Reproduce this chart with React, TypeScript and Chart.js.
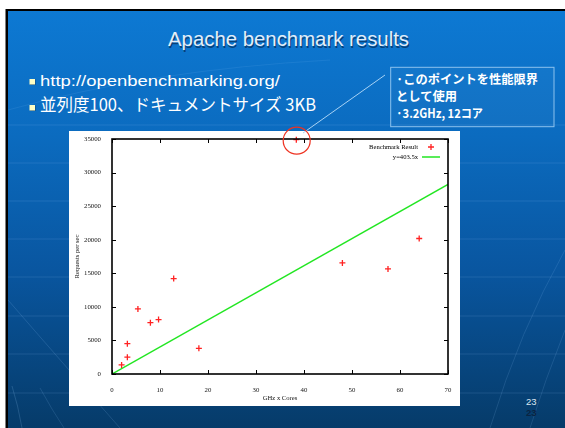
import React, { useEffect, useRef } from "react";
import { Chart, registerables } from "chart.js";

Chart.register(...registerables);

// ---- data ----
const resultX = [2.0, 3.2, 3.2, 5.4, 8.0, 9.7, 12.85, 18.1, 38.4, 48.0, 57.5, 64.0];
const resultY = [1350, 2500, 4520, 9690, 7650, 8100, 14210, 3830, 34900, 16550, 15650, 20180];
const fitX = [0, 70];
const fitY = [0, 28245];
const xTicks = [0, 10, 20, 30, 40, 50, 60, 70];
const yTicks = [0, 5000, 10000, 15000, 20000, 25000, 30000, 35000];
const seriesLabels = ["Benchmark Result", "y=403.5x"];
const xTitle = "GHz x Cores";
const yTitle = "Requests per sec";

const slideTitle = "Apache benchmark results";
const bullets = ["http://openbenchmarking.org/", "並列度100、ドキュメントサイズ 3KB"];
const calloutLines = ["·このポイントを性能限界", "として使用", "·3.2GHz, 12コア"];
const pageNumber = "23";

const SERIF = "'Liberation Serif', 'Times New Roman', serif";
const RED = "#ff2222";
const GREEN = "#22e622";

const framePlugin = {
  id: "gnuplotFrame",
  afterDatasetsDraw(chart: any) {
    const { ctx, chartArea: a, scales } = chart;
    ctx.save();
    ctx.strokeStyle = "#000";
    ctx.lineWidth = 1;
    const L = 4;
    ctx.beginPath();
    for (const v of xTicks) {
      const px = Math.round(scales.x.getPixelForValue(v)) + 0.5;
      ctx.moveTo(px, a.bottom);
      ctx.lineTo(px, a.bottom - L);
      ctx.moveTo(px, a.top);
      ctx.lineTo(px, a.top + L);
    }
    for (const v of yTicks) {
      const py = Math.round(scales.y.getPixelForValue(v)) + 0.5;
      ctx.moveTo(a.left, py);
      ctx.lineTo(a.left + L, py);
      ctx.moveTo(a.right, py);
      ctx.lineTo(a.right - L, py);
    }
    ctx.stroke();
    ctx.lineWidth = 1.6;
    ctx.strokeRect(a.left, a.top, a.right - a.left, a.bottom - a.top);

    // gnuplot-style key (text left, sample right)
    ctx.font = `6.6px ${SERIF}`;
    ctx.fillStyle = "#000";
    ctx.textAlign = "right";
    ctx.textBaseline = "middle";
    const ds = chart.data.datasets;
    const tx = a.right - 30;
    const y1 = a.top + 8;
    const y2 = a.top + 18;
    ctx.fillText(ds[0].label, tx, y1);
    ctx.fillText(ds[1].label, tx, y2);
    const mx = a.right - 17;
    ctx.strokeStyle = ds[0].borderColor;
    ctx.lineWidth = 1.3;
    ctx.beginPath();
    ctx.moveTo(mx - 3, y1);
    ctx.lineTo(mx + 3, y1);
    ctx.moveTo(mx, y1 - 3);
    ctx.lineTo(mx, y1 + 3);
    ctx.stroke();
    ctx.strokeStyle = ds[1].borderColor;
    ctx.lineWidth = 1.5;
    ctx.beginPath();
    ctx.moveTo(a.right - 26, y2);
    ctx.lineTo(a.right - 8, y2);
    ctx.stroke();
    ctx.restore();
  },
};

function ChartBox() {
  const ref = useRef<HTMLCanvasElement>(null);
  useEffect(() => {
    const chart = new Chart(ref.current as HTMLCanvasElement, {
      type: "scatter",
      data: {
        datasets: [
          {
            label: seriesLabels[0],
            data: resultX.map((x, i) => ({ x, y: resultY[i] })),
            pointStyle: "cross",
            pointRadius: 3,
            pointHoverRadius: 3,
            borderColor: RED,
            backgroundColor: RED,
            borderWidth: 1.3,
            showLine: false,
            clip: 6,
          },
          {
            label: seriesLabels[1],
            data: fitX.map((x, i) => ({ x, y: fitY[i] })),
            showLine: true,
            pointRadius: 0,
            borderColor: GREEN,
            backgroundColor: GREEN,
            borderWidth: 1.5,
          },
        ],
      } as any,
      options: {
        responsive: false,
        animation: false,
        devicePixelRatio: 1,
        layout: { padding: { top: 8, right: 12, left: 0, bottom: 0 } },
        plugins: { legend: { display: false }, tooltip: { enabled: false } },
        scales: {
          x: {
            type: "linear",
            min: 0,
            max: 70,
            afterFit: (s: any) => {
              s.height = 32;
            },
            afterBuildTicks: (s: any) => {
              s.ticks = xTicks.map((v) => ({ value: v }));
            },
            grid: { display: false },
            border: { display: false },
            ticks: {
              padding: 4,
              color: "#111",
              font: { family: SERIF, size: 6.8 },
              maxRotation: 0,
              callback: (v: any) => String(v),
            },
            title: {
              display: true,
              text: xTitle,
              color: "#111",
              font: { family: SERIF, size: 6.6 },
              padding: { top: 4, bottom: 4 },
            },
          },
          y: {
            type: "linear",
            min: 0,
            max: 35000,
            afterFit: (s: any) => {
              s.width = 43;
            },
            afterBuildTicks: (s: any) => {
              s.ticks = yTicks.map((v) => ({ value: v }));
            },
            grid: { display: false },
            border: { display: false },
            ticks: {
              padding: 3,
              color: "#111",
              font: { family: SERIF, size: 6.8 },
              callback: (v: any) => String(v),
            },
            title: {
              display: true,
              text: yTitle,
              color: "#111",
              font: { family: SERIF, size: 6.6 },
              padding: { top: 4, bottom: 4 },
            },
          },
        },
      } as any,
      plugins: [framePlugin],
    });
    return () => chart.destroy();
  }, []);
  return <canvas ref={ref} width={391} height={275} style={{ display: "block" }} />;
}

export default function App() {
  const hLines = [125, 163, 201, 239, 277, 316, 354, 393];
  return (
    <div
      style={{
        position: "absolute",
        left: 0,
        top: 0,
        width: 565,
        height: 428,
        overflow: "hidden",
        background: "#fff",
      }}
    >
      <svg width={565} height={428} style={{ position: "absolute", left: 0, top: 0 }}>
        <defs>
          <linearGradient id="bg" x1="0" y1="0" x2="0" y2="1">
            <stop offset="0%" stopColor="#0d79d3" />
            <stop offset="30%" stopColor="#0b6bbf" />
            <stop offset="62%" stopColor="#0956a0" />
            <stop offset="100%" stopColor="#063b69" />
          </linearGradient>
        </defs>
        <rect x={5.5} y={9} width={560} height={419} fill="#000" />
        <rect x={8} y={11} width={557} height={417} fill="url(#bg)" />
        {hLines.map((y) => (
          <line key={y} x1={8} x2={565} y1={y} y2={y} stroke="#9fd0ff" strokeOpacity={0.14} strokeWidth={1} />
        ))}
        <path d="M 8 300 Q 60 360 120 428" stroke="#9fd0ff" strokeOpacity={0.15} fill="none" />
        <path d="M 12 386 Q 18 405 22 428" stroke="#9fd0ff" strokeOpacity={0.18} fill="none" />
        <path d="M 40 388 Q 52 410 64 428" stroke="#9fd0ff" strokeOpacity={0.14} fill="none" />
        <path d="M 565 250 Q 520 330 490 428" stroke="#9fd0ff" strokeOpacity={0.14} fill="none" />
        <path d="M 565 330 Q 545 380 530 428" stroke="#9fd0ff" strokeOpacity={0.14} fill="none" />
        <path d="M 8 110 Q 150 70 330 60" stroke="#9fd0ff" strokeOpacity={0.1} fill="none" />

        <text
          x={289.5}
          y={47.5}
          textAnchor="middle"
          fontFamily="'Liberation Sans', Arial, sans-serif"
          fontSize={20.4}
          fill="#062a52"
          fillOpacity={0.7}
          textLength={241}
          lengthAdjust="spacingAndGlyphs"
        >
          {slideTitle}
        </text>
        <text
          x={288.5}
          y={46}
          textAnchor="middle"
          fontFamily="'Liberation Sans', Arial, sans-serif"
          fontSize={20.4}
          fill="#e4eef8"
          textLength={241}
          lengthAdjust="spacingAndGlyphs"
        >
          {slideTitle}
        </text>

        <rect x={30} y={79.5} width={5.5} height={5.5} fill="#1a2a3a" fillOpacity={0.6} />
        <rect x={29.5} y={79} width={5.5} height={5.5} fill="#ffffc4" />
        <text
          x={40}
          y={86}
          fontFamily="'Liberation Sans', Arial, sans-serif"
          fontSize={15.5}
          fill="#ffffff"
          textLength={240}
          lengthAdjust="spacingAndGlyphs"
        >
          {bullets[0]}
        </text>
        <rect x={30} y={105.5} width={5.5} height={5.5} fill="#1a2a3a" fillOpacity={0.6} />
        <rect x={29.5} y={105} width={5.5} height={5.5} fill="#ffffc4" />
        <text
          x={40}
          y={110.5}
          fontFamily="'Noto Sans CJK JP', sans-serif"
          fontSize={17}
          fill="#ffffff"
          textLength={276}
          lengthAdjust="spacingAndGlyphs"
        >
          {bullets[1]}
        </text>

        <rect x={390.7} y={67.3} width={163.3} height={59.4} fill="#ffffff" fillOpacity={0.03} stroke="#8cc2ee" strokeWidth={1} />
        <text
          x={396}
          y={84}
          fontFamily="'Noto Sans CJK JP', sans-serif"
          fontWeight="bold"
          fontSize={12.3}
          fill="#ffffff"
          textLength={142}
          lengthAdjust="spacingAndGlyphs"
        >
          {calloutLines[0]}
        </text>
        <text
          x={396}
          y={101}
          fontFamily="'Noto Sans CJK JP', sans-serif"
          fontWeight="bold"
          fontSize={12.3}
          fill="#ffffff"
          textLength={61}
          lengthAdjust="spacingAndGlyphs"
        >
          {calloutLines[1]}
        </text>
        <text
          x={396}
          y={117.5}
          fontFamily="'Noto Sans CJK JP', sans-serif"
          fontWeight="bold"
          fontSize={12.3}
          fill="#ffffff"
          textLength={87}
          lengthAdjust="spacingAndGlyphs"
        >
          {calloutLines[2]}
        </text>

        <text x={526} y={405} fontFamily="'Liberation Sans', Arial, sans-serif" fontSize={9.5} fill="#dce8f2">
          {pageNumber}
        </text>
        <text x={526} y={416} fontFamily="'Liberation Sans', Arial, sans-serif" fontSize={9.5} fontWeight="bold" fill="#0a2442">
          {pageNumber}
        </text>
      </svg>

      <div style={{ position: "absolute", left: 69, top: 131, width: 391, height: 275, background: "#fff" }}>
        <ChartBox />
      </div>

      <svg width={565} height={428} style={{ position: "absolute", left: 0, top: 0, pointerEvents: "none" }}>
        <line x1={385} y1={75} x2={303} y2={133} stroke="#a8d2f4" strokeWidth={1} />
        <circle cx={296.7} cy={140.7} r={13.5} fill="none" stroke="#ee3322" strokeWidth={1.2} />
      </svg>
    </div>
  );
}
